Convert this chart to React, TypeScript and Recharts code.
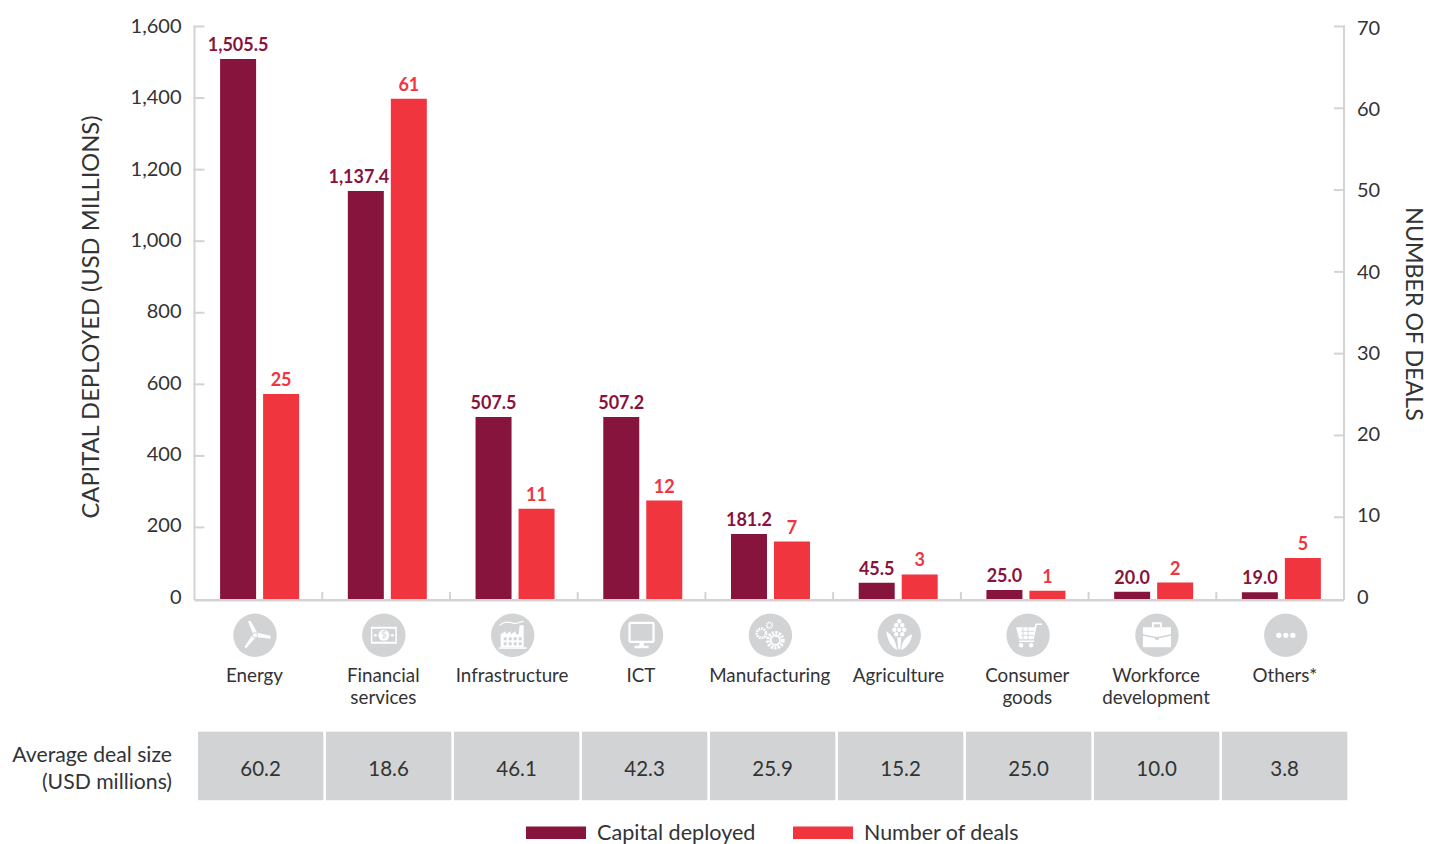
import React from "react";
import { BarChart, Bar, XAxis, YAxis, LabelList, Legend } from "recharts";

const categories = ["Energy", "Financial services", "Infrastructure", "ICT", "Manufacturing", "Agriculture", "Consumer goods", "Workforce development", "Others*"];
const categoryLines = [["Energy"], ["Financial", "services"], ["Infrastructure"], ["ICT"], ["Manufacturing"], ["Agriculture"], ["Consumer", "goods"], ["Workforce", "development"], ["Others*"]];
const capitalDeployed = [1505.5, 1137.4, 507.5, 507.2, 181.2, 45.5, 25.0, 20.0, 19.0];
const numberOfDeals = [25, 61, 11, 12, 7, 3, 1, 2, 5];
const averageDealSize = ["60.2", "18.6", "46.1", "42.3", "25.9", "15.2", "25.0", "10.0", "3.8"];
const capitalTicks = [0, 200, 400, 600, 800, 1000, 1200, 1400, 1600];
const dealTicks = [0, 10, 20, 30, 40, 50, 60, 70];

const data = categories.map((category, i) => ({
  category,
  capital: capitalDeployed[i],
  deals: numberOfDeals[i],
}));

const FONT = "Lato, 'Open Sans', sans-serif";
const INK = "#333335";
const GREY = "#d1d3d4";
const MAROON = "#87143c";
const RED = "#f0353f";

const Icon = ({ i }: { i: number }) => {
  const w = "#fff";
  switch (i) {
    case 0:
      return (
        <g fill={w}>
          <path d="M-2 -1.5 L-7 -14 L-4.5 -14.5 L2 -3 Z" />
          <path d="M2 -2.5 L15.5 0.5 L15.5 3.5 L1.5 2 Z" />
          <path d="M1 2 L-9 13 L-10.5 11.5 L-2.5 -0.5 Z" />
          <circle r="2.6" fill={w} stroke={GREY} strokeWidth="0.9" />
        </g>
      );
    case 1:
      return (
        <g>
          <path fillRule="evenodd" fill={w} d="M-13 -8.5 H13 V8.5 H-13 Z M-11.5 -6.5 V6.5 H11.5 V-6.5 Z" />
          <circle r="5.5" fill={w} />
          <circle cx="-8.5" r="1.4" fill={w} />
          <circle cx="8.5" r="1.4" fill={w} />
          <text y="3" textAnchor="middle" fontSize="9" fontFamily={FONT} fill={GREY}>$</text>
        </g>
      );
    case 2:
      return (
        <g fill={w}>
          <path d="M-13 -10 C-8 -15 -3 -13 1 -12 C5 -11 7 -14 11 -14" fill="none" stroke={w} strokeWidth="1.2" />
          <path d="M-12 12 V-1 L-7 -4 V-1 L-2 -4 V-1 L3 -4 V-1 L6 -1 L7 -10 H11 V12 Z" />
          <path d="M-14 12 H14 V13.5 H-14 Z" />
          {[-9, -4, 1, 6].map((x) =>
            [2, 7].map((y) => <rect key={`${x}-${y}`} x={x} y={y} width="3" height="3" fill={GREY} />)
          )}
        </g>
      );
    case 3:
      return (
        <g>
          <rect x="-12" y="-12.5" width="24" height="19" rx="1" fill={GREY} stroke={w} strokeWidth="2.2" />
          <path d="M-2 7.5 H2 L2.5 10.5 H7 V13 H-7 V10.5 H-2.5 Z" fill={w} />
        </g>
      );
    case 4:
      return (
        <g fill="none" stroke={w}>
          <circle cx="5" cy="5" r="7.5" strokeWidth="3.6" strokeDasharray="2.2 1.3" />
          <circle cx="5" cy="5" r="4.6" strokeWidth="1.8" />
          <circle cx="-9" cy="-2" r="4.6" strokeWidth="2.8" strokeDasharray="1.7 0.9" />
          <circle cx="-1" cy="-10" r="2.8" strokeWidth="2" strokeDasharray="1.2 0.7" />
        </g>
      );
    case 5:
      return (
        <g fill={w}>
          {[[0, -14], [-3, -10], [3, -10], [-5, -5.5], [0, -5.5], [5, -5.5], [-3, -1], [3, -1]].map(([x, y]) => (
            <circle key={`${x}${y}`} cx={x} cy={y} r="2.2" />
          ))}
          <path d="M-13 -4 C-12 5 -8 12 -2 15 C-3 9 -5 1 -13 -4 Z" />
          <path d="M13 -1 C12 6 8 12 2 15 C2 8 5 2 13 -1 Z" />
          <path d="M-2 2 H2 L1 14 H-1 Z" />
        </g>
      );
    case 6:
      return (
        <g fill={w}>
          <path d="M-12 -8 H7 L5 4 H-9 Z" />
          <path d="M5 3.5 L8 -11 H14" fill="none" stroke={w} strokeWidth="1.6" />
          <path d="M-9 6 H6" stroke={w} strokeWidth="1.6" />
          <circle cx="-7" cy="10" r="2.2" />
          <circle cx="3" cy="10" r="2.2" />
          <path d="M-7 -4 H6 M-7 0 H6 M-5 -8 V4 M0 -8 V4" stroke={GREY} strokeWidth="0.8" />
        </g>
      );
    case 7:
      return (
        <g fill={w}>
          <path d="M-5 -8 V-13 H5 V-8 H3 V-11 H-3 V-8 Z" />
          <path d="M-14 -8 H14 V-1 L2 1.5 H-2 L-14 -1 Z" />
          <path d="M-14 0.5 L-2 3 V4.5 H2 V3 L14 0.5 V12 H-14 Z" />
        </g>
      );
    default:
      return (
        <g fill={w}>
          <circle cx="-7" r="2.6" />
          <circle cx="0" r="2.6" />
          <circle cx="7" r="2.6" />
        </g>
      );
  }
};

const CategoryTick = (props: any) => {
  const { x, payload } = props;
  const i = payload.index;
  const iconX = 255 + 128.85 * i;
  const textX = 254.5 + 128.8 * i;
  const cellX = 198 + 128 * i;
  const lines = categoryLines[i];
  return (
    <g>
      {i < categories.length - 1 && (
        <line x1={x - 1.6 + 63.9} x2={x - 1.6 + 63.9} y1={592} y2={600} stroke={GREY} strokeWidth={2} />
      )}
      <g transform={`translate(${iconX},635.3)`}>
        <circle r={21.7} fill={GREY} />
        <Icon i={i} />
      </g>
      <text x={textX} textAnchor="middle" fontFamily={FONT} fontSize={18.8} fill={INK}>
        {lines.map((l: string, k: number) => (
          <tspan key={k} x={textX} y={682 + k * 22}>{l}</tspan>
        ))}
      </text>
      <rect x={cellX} y={731.7} width={125.3} height={68.5} fill={GREY} />
      <text x={cellX + 62.6} y={776} textAnchor="middle" fontFamily={FONT} fontSize={20.5} fill={INK}>
        {averageDealSize[i]}
      </text>
    </g>
  );
};

const LeftTick = (props: any) => {
  const { x, y, payload } = props;
  const v = payload.value;
  const label = v.toLocaleString("en-US");
  const edge = x + 8;
  const lineY = y + (1.5 * v) / 1600;
  return (
    <g>
      {v === 0 && <line x1={edge} x2={edge} y1={600} y2={25.5} stroke={GREY} strokeWidth={2} />}
      {v > 0 && <line x1={edge - 1} x2={edge + 10} y1={lineY} y2={lineY} stroke={GREY} strokeWidth={2} />}
      <text x={edge - 13} y={y + 4.7 + (3.1 * v) / 1600} textAnchor="end" fontFamily={FONT} fontSize={20} fill={INK}>
        {label}
      </text>
    </g>
  );
};

const RightTick = (props: any) => {
  const { x, y, payload } = props;
  const v = payload.value;
  const edge = x - 8;
  const lineY = y + (1.5 * v) / 70;
  return (
    <g>
      {v === 0 && <line x1={edge} x2={edge} y1={600} y2={25.5} stroke={GREY} strokeWidth={2} />}
      {v > 0 && <line x1={edge - 10} x2={edge + 1} y1={lineY} y2={lineY} stroke={GREY} strokeWidth={2} />}
      <text x={edge + 13} y={y + 4.7 + (5.3 * v) / 70} textAnchor="start" fontFamily={FONT} fontSize={20} fill={INK}>
        {v}
      </text>
    </g>
  );
};

const BarLabel = (props: any) => {
  const { x, y, width, value, index, color, fmt, nudge } = props;
  return (
    <text
      x={x + width / 2 + (nudge && index === 1 ? -7 : 0)}
      y={y - 8}
      textAnchor="middle"
      fontFamily={FONT}
      fontWeight={700}
      fontSize={18}
      fill={color}
    >
      {fmt(value)}
    </text>
  );
};

const fmtCapital = (v: number) => v.toLocaleString("en-US", { minimumFractionDigits: 1, maximumFractionDigits: 1 });
const fmtDeals = (v: number) => String(v);

const LegendContent = () => (
  <svg width={1429} height={30} style={{ display: "block" }}>
    <rect x={526} y={12.5} width={60} height={12.5} fill={MAROON} />
    <text x={597} y={25.5} fontFamily={FONT} fontSize={21.6} fill={INK}>Capital deployed</text>
    <rect x={793} y={12.5} width={60} height={12.5} fill={RED} />
    <text x={864} y={25.5} fontFamily={FONT} fontSize={21.4} fill={INK}>Number of deals</text>
  </svg>
);

const LeftAxisTitle = () => (
  <text transform="translate(99,317) rotate(-90)" textAnchor="middle" fontFamily={FONT} fontSize={23.7} fill={INK}>
    CAPITAL DEPLOYED (USD MILLIONS)
  </text>
);

const RightAxisTitle = () => (
  <text transform="translate(1406,314) rotate(90)" textAnchor="middle" fontFamily={FONT} fontSize={23.2} fill={INK}>
    NUMBER OF DEALS
  </text>
);

const DealSizeTitle = () => (
  <text textAnchor="end" fontFamily={FONT} fontSize={21.2} fill={INK}>
    <tspan x={172} y={762}>Average deal size</tspan>
    <tspan x={172} y={789}>(USD millions)</tspan>
  </text>
);

export default function App() {
  return (
    <div style={{ position: "absolute", left: 0, top: 0, width: 1429, height: 844, background: "#fff" }}>
      <BarChart
        width={1429}
        height={844}
        data={data}
        margin={{ top: 25, right: 0, bottom: 0, left: 0 }}
        barSize={36}
        barGap={7}
      >
        <XAxis
          dataKey="category"
          xAxisId={0}
          height={215}
          interval={0}
          padding={{ left: 1.6, right: -1.6 }}
          axisLine={{ stroke: GREY, strokeWidth: 2.5, transform: "translate(0,1.2)" }}
          tickLine={false}
          tick={<CategoryTick />}
          label={<DealSizeTitle />}
        />
        <YAxis
          yAxisId="left"
          orientation="left"
          width={194.5}
          domain={[0, 1600]}
          ticks={capitalTicks}
          interval={0}
          axisLine={false}
          tickLine={false}
          tick={<LeftTick />}
          label={<LeftAxisTitle />}
        />
        <YAxis
          yAxisId="right"
          orientation="right"
          width={85}
          domain={[0, 70]}
          ticks={dealTicks}
          interval={0}
          axisLine={false}
          tickLine={false}
          tick={<RightTick />}
          label={<RightAxisTitle />}
        />
        <Bar dataKey="capital" name="Capital deployed" yAxisId="left" fill={MAROON} isAnimationActive={false}>
          <LabelList dataKey="capital" content={<BarLabel color={MAROON} fmt={fmtCapital} nudge />} />
        </Bar>
        <Bar dataKey="deals" name="Number of deals" yAxisId="right" fill={RED} isAnimationActive={false}>
          <LabelList dataKey="deals" content={<BarLabel color={RED} fmt={fmtDeals} />} />
        </Bar>
        <Legend
          content={<LegendContent />}
          wrapperStyle={{ position: "absolute", left: 0, top: 814, width: 1429, height: 30 }}
        />
      </BarChart>
    </div>
  );
}
